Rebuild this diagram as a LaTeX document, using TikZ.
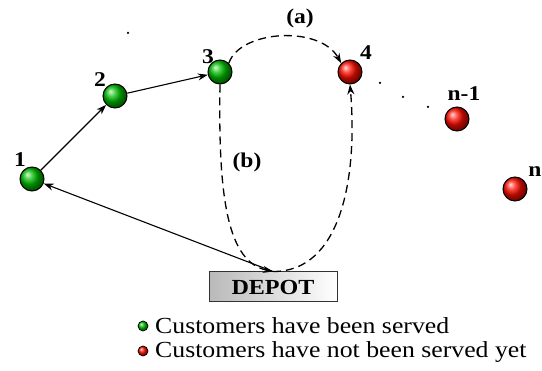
\documentclass[tikz,border=0pt]{standalone}
\usepackage{fontspec}
\setmainfont{Liberation Serif}[FakeStretch=1.12]
\usetikzlibrary{arrows.meta,shadings}
\begin{document}
\begin{tikzpicture}[x=1pt,y=-1pt,
  served/.style={circle,draw=black,line width=1pt,shading=ball,ball color=green!75!black,minimum size=24pt,inner sep=0pt},
  notserved/.style={circle,draw=black,line width=1pt,shading=ball,ball color=red!95!yellow,minimum size=24pt,inner sep=0pt},
  lab/.style={font=\fontsize{21}{23}\selectfont\bfseries,inner sep=0pt},
  legtext/.style={font=\fontsize{23}{25}\selectfont,anchor=west,inner sep=0pt},
  solidarrow/.style={draw=black,line width=1.1pt,-{Stealth[length=10pt,width=7pt]}},
  dasharrow/.style={draw=black,line width=1.3pt,dash pattern=on 8pt off 5pt,-{Stealth[length=10pt,width=7pt]}},
  dotmark/.style={circle,fill=black,minimum size=2.5pt,inner sep=0pt}]
\useasboundingbox (0,0) rectangle (542,371);
\node[served] (n1) at (32,179) {};
\node[served] (n2) at (115,96) {};
\node[served] (n3) at (220,72) {};
\node[notserved] (n4) at (350,72) {};
\node[notserved] (nm1) at (457,119) {};
\node[notserved] (nn) at (515,189) {};
\node[lab] (l1) at (20,160) {1};
\node[lab] (l2) at (100,80) {2};
\node[lab] (l3) at (208,57) {3};
\node[lab] (l4) at (366,53) {4};
\node[lab] (lnm1) at (464,94) {n-1};
\node[lab] (lnn) at (535,172) {n};
\node[lab] (la) at (300,18) {(a)};
\node[lab] (lb) at (247,162) {(b)};
\node[dotmark] (d0) at (128,33) {};
\node[dotmark] (d1) at (380,83) {};
\node[dotmark] (d2) at (403,97) {};
\node[dotmark] (d3) at (428,107) {};
\node[draw=black!80,line width=1pt,left color=gray!55,right color=white,minimum width=128pt,minimum height=30pt,inner sep=0pt,font=\fontsize{21.5}{23}\selectfont\bfseries] (depot) at (273,287) {DEPOT};
\draw[solidarrow] (n1) -- (n2);
\draw[solidarrow] (n2) -- (n3);
\draw[solidarrow] (depot.north) -- (n1);
\draw[dasharrow] (n3.north east) .. controls (240,30) and (320,25) .. (n4.north west);
\draw[dasharrow] (n3.south) .. controls (218,200) and (228,262) .. (depot.north);
\draw[dasharrow] (depot.north) .. controls (340,272) and (358,180) .. (n4.south);
\node[circle,draw=black,line width=0.7pt,shading=ball,ball color=green!75!black,minimum size=10pt,inner sep=0pt] (g) at (143,326) {};
\node[circle,draw=black,line width=0.7pt,shading=ball,ball color=red!95!yellow,minimum size=10pt,inner sep=0pt] (r) at (143,351) {};
\node[legtext] (t1) at (155,326) {Customers have been served};
\node[legtext] (t2) at (155,352) {Customers have not been served yet};
\end{tikzpicture}
\end{document}
